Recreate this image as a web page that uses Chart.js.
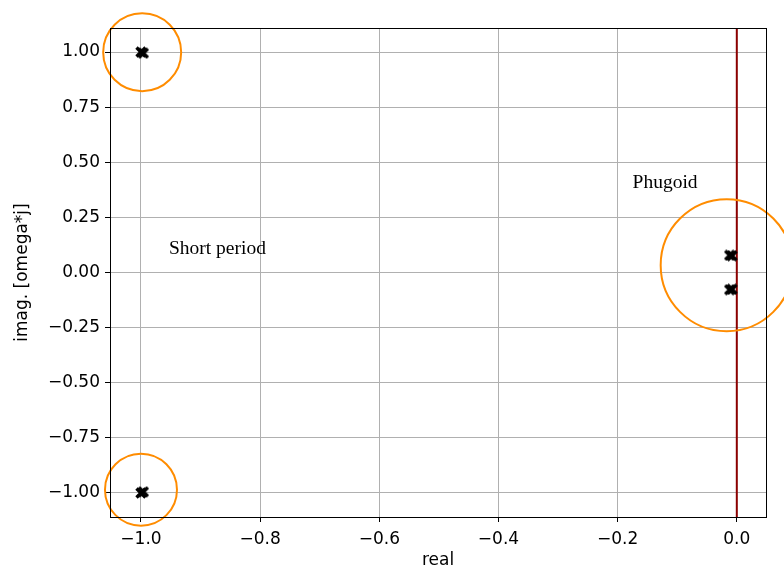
<!DOCTYPE html>
<html>
<head>
<meta charset="utf-8">
<script src="https://cdn.jsdelivr.net/npm/chart.js@4.4.0/dist/chart.umd.min.js"></script>
<style>
html, body { margin: 0; padding: 0; background: #fff; }
#wrap { width: 784px; height: 568px; }
</style>
</head>
<body>
<div id="wrap"><canvas id="poleChart" width="784" height="568"></canvas></div>
<script>
// eigenvalues (two runs, nearly on top of each other)
var polesReal = [-1.0, -1.0, -0.996, -0.996, -0.012, -0.012, -0.008, -0.008];
var polesImag = [1.0, -1.0, 0.995, -0.995, 0.078, -0.078, 0.076, -0.076];

// highlight circles around the modes
var ringReal = [-0.998, -1.0, -0.017];
var ringImag = [0.999, -0.985, 0.033];
var ringSize = [39, 36, 66];

// notes
var noteText = ['Short period', 'Phugoid'];
var noteReal = [-0.953, -0.175];
var noteImag = [0.082, 0.385];

var xTicks = [-1.0, -0.8, -0.6, -0.4, -0.2, 0.0];
var yTicks = [-1.0, -0.75, -0.5, -0.25, 0.0, 0.25, 0.5, 0.75, 1.0];
var xMin = -1.052, xMax = 0.049;
var yMin = -1.109, yMax = 1.109;

function xMarker() {
	var c = document.createElement('canvas');
	c.width = 12; c.height = 12;
	var g = c.getContext('2d');
	g.strokeStyle = '#000';
	g.lineWidth = 3.4;
	g.lineCap = 'butt';
	g.beginPath();
	g.moveTo(1.5, 1.5); g.lineTo(10.5, 10.5);
	g.moveTo(10.5, 1.5); g.lineTo(1.5, 10.5);
	g.stroke();
	return c;
}

function fmt(v, dec) {
	var s = Math.abs(v).toFixed(dec);
	return (v < -1e-9 ? '\u2212' : '') + s;
}

var poles = [];
for (var i = 0; i < polesReal.length; i++) poles.push({x: polesReal[i], y: polesImag[i]});
var rings = [];
for (var k = 0; k < ringReal.length; k++) rings.push({x: ringReal[k], y: ringImag[k]});

var framePlugin = {
	id: 'frame',
	afterDatasetsDraw: function(chart) {
		var ctx = chart.ctx, a = chart.chartArea;
		var xs = chart.scales.x, ys = chart.scales.y;
		ctx.save();
		ctx.fillStyle = '#000';
		ctx.font = '19.5px "Liberation Serif", "DejaVu Serif", serif';
		ctx.textBaseline = 'alphabetic';
		for (var n = 0; n < noteText.length; n++) {
			ctx.fillText(noteText[n], xs.getPixelForValue(noteReal[n]), ys.getPixelForValue(noteImag[n]));
		}
		ctx.strokeStyle = '#000';
		ctx.lineWidth = 1;
		ctx.strokeRect(Math.round(a.left) + 0.5, Math.round(a.top) + 0.5, Math.round(a.right - a.left), Math.round(a.bottom - a.top));
		ctx.restore();
	}
};

new Chart('poleChart', {
	type: 'scatter',
	data: {
		datasets: [{
			type: 'line',
			data: [{x: 0, y: yMin}, {x: 0, y: yMax}],
			borderColor: '#8b0000',
			borderWidth: 2,
			pointRadius: 0,
			order: 3
		}, {
			data: poles,
			pointStyle: xMarker(),
			pointRadius: 6,
			order: 2
		}, {
			data: rings,
			pointStyle: 'circle',
			pointRadius: ringSize,
			backgroundColor: 'rgba(0,0,0,0)',
			borderColor: '#ff8c00',
			borderWidth: 2,
			clip: false,
			order: 1
		}]
	},
	options: {
		responsive: false,
		animation: false,
		devicePixelRatio: 1,
		layout: { autoPadding: false, padding: { top: 28, right: 18, left: 0, bottom: 0 } },
		plugins: { legend: { display: false }, tooltip: { enabled: false } },
		scales: {
			x: {
				type: 'linear',
				min: xMin, max: xMax,
				afterBuildTicks: function(s){ s.ticks = xTicks.map(function(v){ return {value: v}; }); },
				afterFit: function(s){ s.height = 51; },
				grid: { color: '#b0b0b0', lineWidth: 1, tickLength: 5, tickColor: '#000', drawTicks: true },
				border: { display: false },
				ticks: {
					color: '#000', padding: 7, maxRotation: 0,
					font: { family: '"DejaVu Sans"', size: 17 },
					callback: function(v){ return fmt(v, 1); }
				},
				title: { display: true, text: 'real', color: '#000', padding: { top: 0, bottom: -3 }, font: { family: '"DejaVu Sans"', size: 17 } }
			},
			y: {
				type: 'linear',
				min: yMin, max: yMax,
				afterBuildTicks: function(s){ s.ticks = yTicks.map(function(v){ return {value: v}; }); },
				afterFit: function(s){ s.width = 110; },
				grid: { color: '#b0b0b0', lineWidth: 1, tickLength: 5, tickColor: '#000', drawTicks: true },
				border: { display: false },
				ticks: {
					color: '#000', padding: 5,
					font: { family: '"DejaVu Sans"', size: 17 },
					callback: function(v){ return fmt(v, 2); }
				},
				title: { display: true, text: 'imag. [omega*j]', color: '#000', padding: { top: 12, bottom: 0 }, font: { family: '"DejaVu Sans"', size: 17 } }
			}
		}
	},
	plugins: [framePlugin]
});
</script>
</body>
</html>
